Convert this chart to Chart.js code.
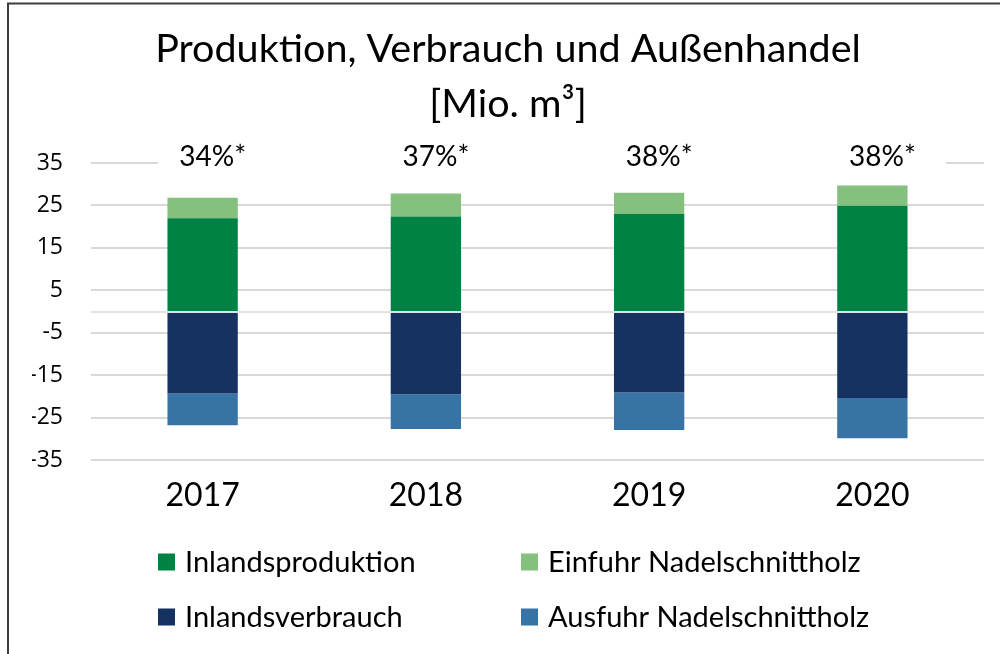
<!DOCTYPE html>
<html>
<head>
<meta charset="utf-8">
<script src="https://cdn.jsdelivr.net/npm/chart.js@4"></script>
<style>
  html, body { margin: 0; padding: 0; background: #fff; }
  #wrap { width: 1000px; height: 654px; }
</style>
</head>
<body>
<div id="wrap"><canvas id="myChart" width="1000" height="654"></canvas></div>
<script>
const ctx = document.getElementById("myChart").getContext("2d");

// values (Mio. m³)
const years = ["2017", "2018", "2019", "2020"];
const production = [22.0, 22.4, 23.0, 24.9];
const imports = [4.8, 5.4, 5.0, 4.8];
const consumption = [-19.3, -19.5, -19.1, -20.4];
const exports = [-7.5, -8.2, -8.8, -9.5];
const shares = ["34%*", "37%*", "38%*", "38%*"];

const FONT = "Lato";

// frame round the whole thing
const framePlugin = {
  id: "frame",
  beforeDraw(chart) {
    const c = chart.ctx;
    c.save();
    c.fillStyle = "#fff";
    c.fillRect(0, 0, chart.width, chart.height);
    c.strokeStyle = "#3c3c3c";
    c.lineWidth = 2;
    c.strokeRect(8, 3.5, chart.width + 20, chart.height + 20);
    c.restore();
  },
};

// top gridline is only visible at the ends, zero line sits over the bars
const linesPlugin = {
  id: "lines",
  beforeDatasetsDraw(chart) {
    const { ctx: c, chartArea: a, scales } = chart;
    const y = Math.round(scales.y.getPixelForValue(35));
    c.save();
    c.strokeStyle = "#d9d9d9";
    c.lineWidth = 2;
    c.beginPath();
    c.moveTo(a.left, y);
    c.lineTo(a.left + 67, y);
    c.moveTo(a.right - 38, y);
    c.lineTo(a.right, y);
    c.stroke();
    c.restore();
  },
  afterDatasetsDraw(chart) {
    const { ctx: c, chartArea: a, scales } = chart;
    const y = Math.round(scales.y.getPixelForValue(0));
    c.save();
    c.strokeStyle = "#e2e2e2";
    c.lineWidth = 2;
    c.beginPath();
    c.moveTo(a.left, y);
    c.lineTo(a.right, y);
    c.stroke();
    c.restore();
  },
};

// percentage labels above the bars
const sharePlugin = {
  id: "shares",
  afterDraw(chart) {
    const c = chart.ctx;
    const meta = chart.getDatasetMeta(0);
    c.save();
    c.font = "28px " + FONT;
    c.fillStyle = "#000";
    c.textAlign = "center";
    c.textBaseline = "middle";
    meta.data.forEach((bar, i) => {
      c.fillText(shares[i], bar.x + 10, chart.chartArea.top - 6);
    });
    c.restore();
  },
};

// legend in two columns like the original
const legendPlugin = {
  id: "legend2col",
  afterDraw(chart) {
    const c = chart.ctx;
    const cols = [158, 521];
    const rows = [562, 617];
    c.save();
    c.font = "29px " + FONT;
    c.textBaseline = "middle";
    c.textAlign = "left";
    chart.data.datasets.forEach((ds, i) => {
      const x = cols[i % 2];
      const y = rows[Math.floor(i / 2)];
      c.fillStyle = ds.backgroundColor;
      c.fillRect(x, y - 8.5, 17, 17);
      c.fillStyle = "#000";
      c.fillText(ds.label, x + 27, y + 1);
    });
    c.restore();
  },
};

const data = {
  labels: years,
  datasets: [
    { label: "Inlandsproduktion", data: production, backgroundColor: "#008244" },
    { label: "Einfuhr Nadelschnittholz", data: imports, backgroundColor: "#84c07e" },
    { label: "Inlandsverbrauch", data: consumption, backgroundColor: "#163261" },
    { label: "Ausfuhr Nadelschnittholz", data: exports, backgroundColor: "#3873a6" },
  ],
};

const config = {
  type: "bar",
  data: data,
  options: {
    responsive: false,
    animation: false,
    devicePixelRatio: 1,
    barPercentage: 0.63,
    categoryPercentage: 0.5,
    layout: { padding: { left: 32, right: 16, top: 0, bottom: 0 } },
    plugins: {
      legend: { display: false },
      tooltip: { enabled: false },
      title: {
        display: true,
        text: ["Produktion, Verbrauch und Außenhandel", "[Mio. m³]"],
        color: "#000",
        font: { family: FONT, size: 39.5, weight: "normal", lineHeight: 55 / 39.5 },
        padding: { top: 22, bottom: 31 },
      },
    },
    scales: {
      x: {
        stacked: true,
        grid: { display: false, drawTicks: false },
        border: { display: false },
        ticks: { color: "#000", padding: 16, font: { family: FONT, size: 32 } },
        afterFit: (scale) => { scale.height = 194; },
      },
      y: {
        stacked: true,
        min: -35,
        max: 35,
        border: { display: false },
        grid: {
          drawTicks: false,
          lineWidth: 2,
          color: (c) => (c.tick && c.tick.value === 35 ? "rgba(0,0,0,0)" : "#d9d9d9"),
        },
        ticks: {
          stepSize: 10,
          color: "#000",
          padding: 28,
          font: { family: "Open Sans", size: 23 },
        },
        afterFit: (scale) => { scale.width = 59; },
      },
    },
  },
  plugins: [framePlugin, linesPlugin, sharePlugin, legendPlugin],
};

const myChart = new Chart(ctx, config);
</script>
</body>
</html>
